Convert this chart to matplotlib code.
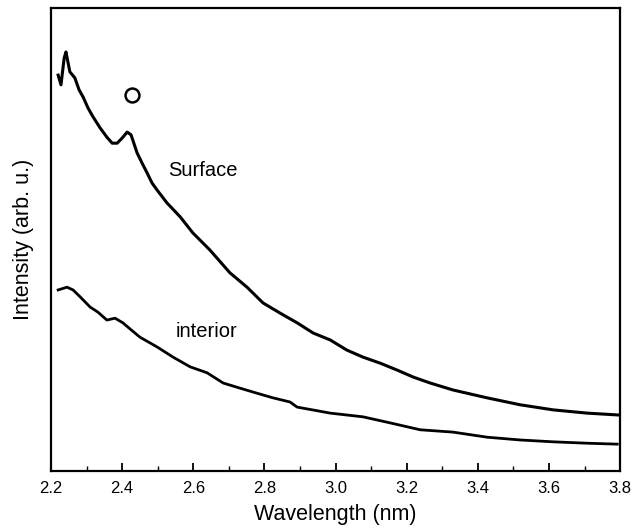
import matplotlib.pyplot as plt
from matplotlib.ticker import MultipleLocator

plt.rcParams['font.family'] = ['Liberation Sans', 'DejaVu Sans']

# values (arbitrary intensity units)
surf_x = [2.220, 2.228, 2.237, 2.242, 2.253, 2.267, 2.279, 2.290, 2.304, 2.318,
          2.338, 2.357, 2.372, 2.386, 2.400, 2.414, 2.425, 2.442, 2.456, 2.470,
          2.484, 2.498, 2.526, 2.563, 2.599, 2.647, 2.703, 2.751, 2.796, 2.844,
          2.892, 2.937, 2.985, 3.032, 3.077, 3.125, 3.173, 3.218, 3.266, 3.330,
          3.426, 3.519, 3.612, 3.707, 3.794]
surf_y = [85.5, 83.4, 89.2, 90.5, 86.2, 84.9, 82.3, 80.8, 78.4, 76.5,
          74.1, 72.1, 70.8, 70.8, 71.9, 73.2, 72.6, 68.7, 66.5, 64.4,
          62.2, 60.7, 57.9, 54.9, 51.4, 47.7, 42.8, 39.7, 36.3, 34.1,
          32.0, 29.8, 28.3, 26.1, 24.6, 23.3, 21.8, 20.3, 19.0, 17.5,
          15.8, 14.3, 13.2, 12.5, 12.1]

int_x = [2.220, 2.245, 2.262, 2.282, 2.310, 2.332, 2.357, 2.380, 2.402, 2.425,
         2.450, 2.498, 2.543, 2.591, 2.639, 2.684, 2.731, 2.779, 2.824, 2.872,
         2.892, 2.985, 3.077, 3.153, 3.238, 3.330, 3.426, 3.519, 3.612, 3.707,
         3.792]
int_y = [39.1, 39.7, 39.1, 37.6, 35.4, 34.3, 32.6, 33.0, 32.0, 30.5,
         28.9, 26.8, 24.6, 22.5, 21.2, 19.0, 17.9, 16.8, 15.8, 14.9,
         13.8, 12.5, 11.7, 10.4, 8.9, 8.4, 7.3, 6.7, 6.3, 6.0,
         5.8]

x_ticks = [2.2, 2.4, 2.6, 2.8, 3.0, 3.2, 3.4, 3.6, 3.8]

fig = plt.figure(figsize=(6.33, 5.31), dpi=100)
ax = fig.add_axes([0.0806, 0.113, 0.899, 0.872])

ax.plot(surf_x, surf_y, color='black', linewidth=2.2)
ax.plot(int_x, int_y, color='black', linewidth=2.0)

# labels on the curves
ax.text(2.626, 65.0, 'Surface', fontsize=14.5, ha='center', va='center')
ax.text(2.636, 30.2, 'interior', fontsize=14.5, ha='center', va='center')
ax.plot([2.428], [81.2], marker='o', markersize=10, markerfacecolor='none',
        markeredgecolor='black', markeredgewidth=1.8)

ax.set_xlim(2.2, 3.8)
ax.set_ylim(0, 100)
ax.set_xticks(x_ticks)
ax.set_xticklabels([f'{t:.1f}' for t in x_ticks])
ax.xaxis.set_minor_locator(MultipleLocator(0.1))
ax.set_yticks([])
ax.tick_params(axis='x', which='major', direction='in', length=6, width=1.3,
               labelsize=12, pad=7)
ax.tick_params(axis='x', which='minor', direction='in', length=3.5, width=1.0)

for s in ax.spines.values():
    s.set_linewidth(1.6)

ax.set_xlabel('Wavelength (nm)', fontsize=15.5, labelpad=6)
ax.set_ylabel('Intensity (arb. u.)', fontsize=15.5, labelpad=12)

fig.savefig('out.png', dpi=100)
